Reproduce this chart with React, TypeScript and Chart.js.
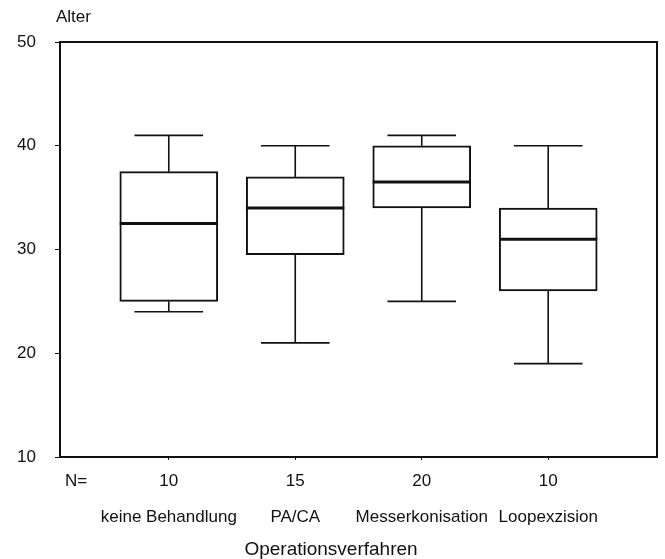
import React, { useEffect, useRef } from "react";
import { Chart, registerables } from "chart.js";

Chart.register(...registerables);

const categories = ["keine Behandlung", "PA/CA", "Messerkonisation", "Loopexzision"];
const nValues = [10, 15, 20, 10];
const whiskerLow = [24, 21, 25, 19];
const quartile1 = [25, 29.5, 34, 26];
const medians = [32.5, 34, 36.5, 31];
const quartile3 = [37.5, 37, 40, 34];
const whiskerHigh = [41, 40, 41, 40];
const yTitle = "Alter";
const xTitle = "Operationsverfahren";
const nLabel = "N=";

const FONT = "Arial, 'Liberation Sans', sans-serif";
const INK = "#111";

const boxPlugin = {
  id: "boxExtras",
  afterDatasetsDraw(chart: any) {
    const { ctx, chartArea } = chart;
    const x = chart.scales.x;
    const y = chart.scales.y;
    const meta = chart.getDatasetMeta(0);
    ctx.save();
    ctx.strokeStyle = INK;
    ctx.lineCap = "butt";
    categories.forEach((_, i) => {
      const cx = x.getPixelForValue(i + 1);
      const bar = meta.data[i];
      const half = bar ? bar.width / 2 : 49;
      const capHalf = half * 0.7;
      const yLow = y.getPixelForValue(whiskerLow[i]);
      const yQ1 = y.getPixelForValue(quartile1[i]);
      const yMed = y.getPixelForValue(medians[i]);
      const yQ3 = y.getPixelForValue(quartile3[i]);
      const yHigh = y.getPixelForValue(whiskerHigh[i]);
      ctx.lineWidth = 1.6;
      ctx.beginPath();
      ctx.moveTo(cx, yQ3);
      ctx.lineTo(cx, yHigh);
      ctx.moveTo(cx - capHalf, yHigh);
      ctx.lineTo(cx + capHalf, yHigh);
      ctx.moveTo(cx, yQ1);
      ctx.lineTo(cx, yLow);
      ctx.moveTo(cx - capHalf, yLow);
      ctx.lineTo(cx + capHalf, yLow);
      ctx.stroke();
      ctx.lineWidth = 3;
      ctx.beginPath();
      ctx.moveTo(cx - half, yMed);
      ctx.lineTo(cx + half, yMed);
      ctx.stroke();
    });
    ctx.lineWidth = 2;
    ctx.strokeRect(chartArea.left, chartArea.top, chartArea.right - chartArea.left, chartArea.bottom - chartArea.top);

    ctx.fillStyle = INK;
    ctx.textBaseline = "middle";
    ctx.textAlign = "left";
    ctx.font = `17px ${FONT}`;
    ctx.fillText(yTitle, chartArea.left - 4, chartArea.top - 25);
    ctx.fillText(nLabel, chartArea.left + 5, chartArea.bottom + 24);
    ctx.textAlign = "center";
    ctx.font = `19px ${FONT}`;
    ctx.fillText(xTitle, chartArea.left + 271, chartArea.bottom + 93);
    ctx.restore();
  },
};

export default function App() {
  const canvasRef = useRef<HTMLCanvasElement | null>(null);

  useEffect(() => {
    document.body.style.margin = "0";
    const canvas = canvasRef.current;
    if (!canvas) return;
    const chart = new Chart(canvas, {
      type: "bar",
      data: {
        datasets: [
          {
            label: "Alter",
            data: categories.map((_, i) => ({ x: i + 1, y: [quartile1[i], quartile3[i]] })) as any,
            backgroundColor: "#ffffff",
            borderColor: INK,
            borderWidth: 2,
            borderSkipped: false,
            barThickness: 98,
          },
        ],
      },
      options: {
        responsive: false,
        animation: false,
        devicePixelRatio: 1,
        layout: { padding: { top: 42, right: 8, left: 0, bottom: 0 } },
        plugins: {
          legend: { display: false },
          tooltip: { enabled: false },
        },
        scales: {
          x: {
            type: "linear",
            offset: false,
            min: 0.14,
            max: 4.86,
            afterBuildTicks: (scale: any) => {
              scale.ticks = categories.map((_, i) => ({ value: i + 1 }));
            },
            afterFit: (scale: any) => {
              scale.height = 102;
            },
            grid: {
              offset: false,
              drawOnChartArea: false,
              drawTicks: true,
              tickLength: 3,
              color: INK,
            },
            border: { display: true, color: INK, width: 2 },
            ticks: {
              autoSkip: false,
              maxRotation: 0,
              minRotation: 0,
              padding: 3,
              color: INK,
              font: { family: FONT, size: 17, lineHeight: 36 / 17 },
              callback: (_v: any, index: number) => [String(nValues[index]), categories[index]],
            },
          },
          y: {
            type: "linear",
            min: 10,
            max: 50,
            afterFit: (scale: any) => {
              scale.width = 60;
            },
            grid: {
              drawOnChartArea: false,
              drawTicks: true,
              tickLength: 5,
              color: INK,
            },
            border: { display: true, color: INK, width: 2 },
            ticks: {
              stepSize: 10,
              padding: 19,
              color: INK,
              font: { family: FONT, size: 17 },
            },
          },
        },
      },
      plugins: [boxPlugin],
    } as any);
    return () => chart.destroy();
  }, []);

  return (
    <div style={{ width: 665, height: 559, background: "#fff" }}>
      <canvas ref={canvasRef} width={665} height={559} style={{ display: "block" }} />
    </div>
  );
}
